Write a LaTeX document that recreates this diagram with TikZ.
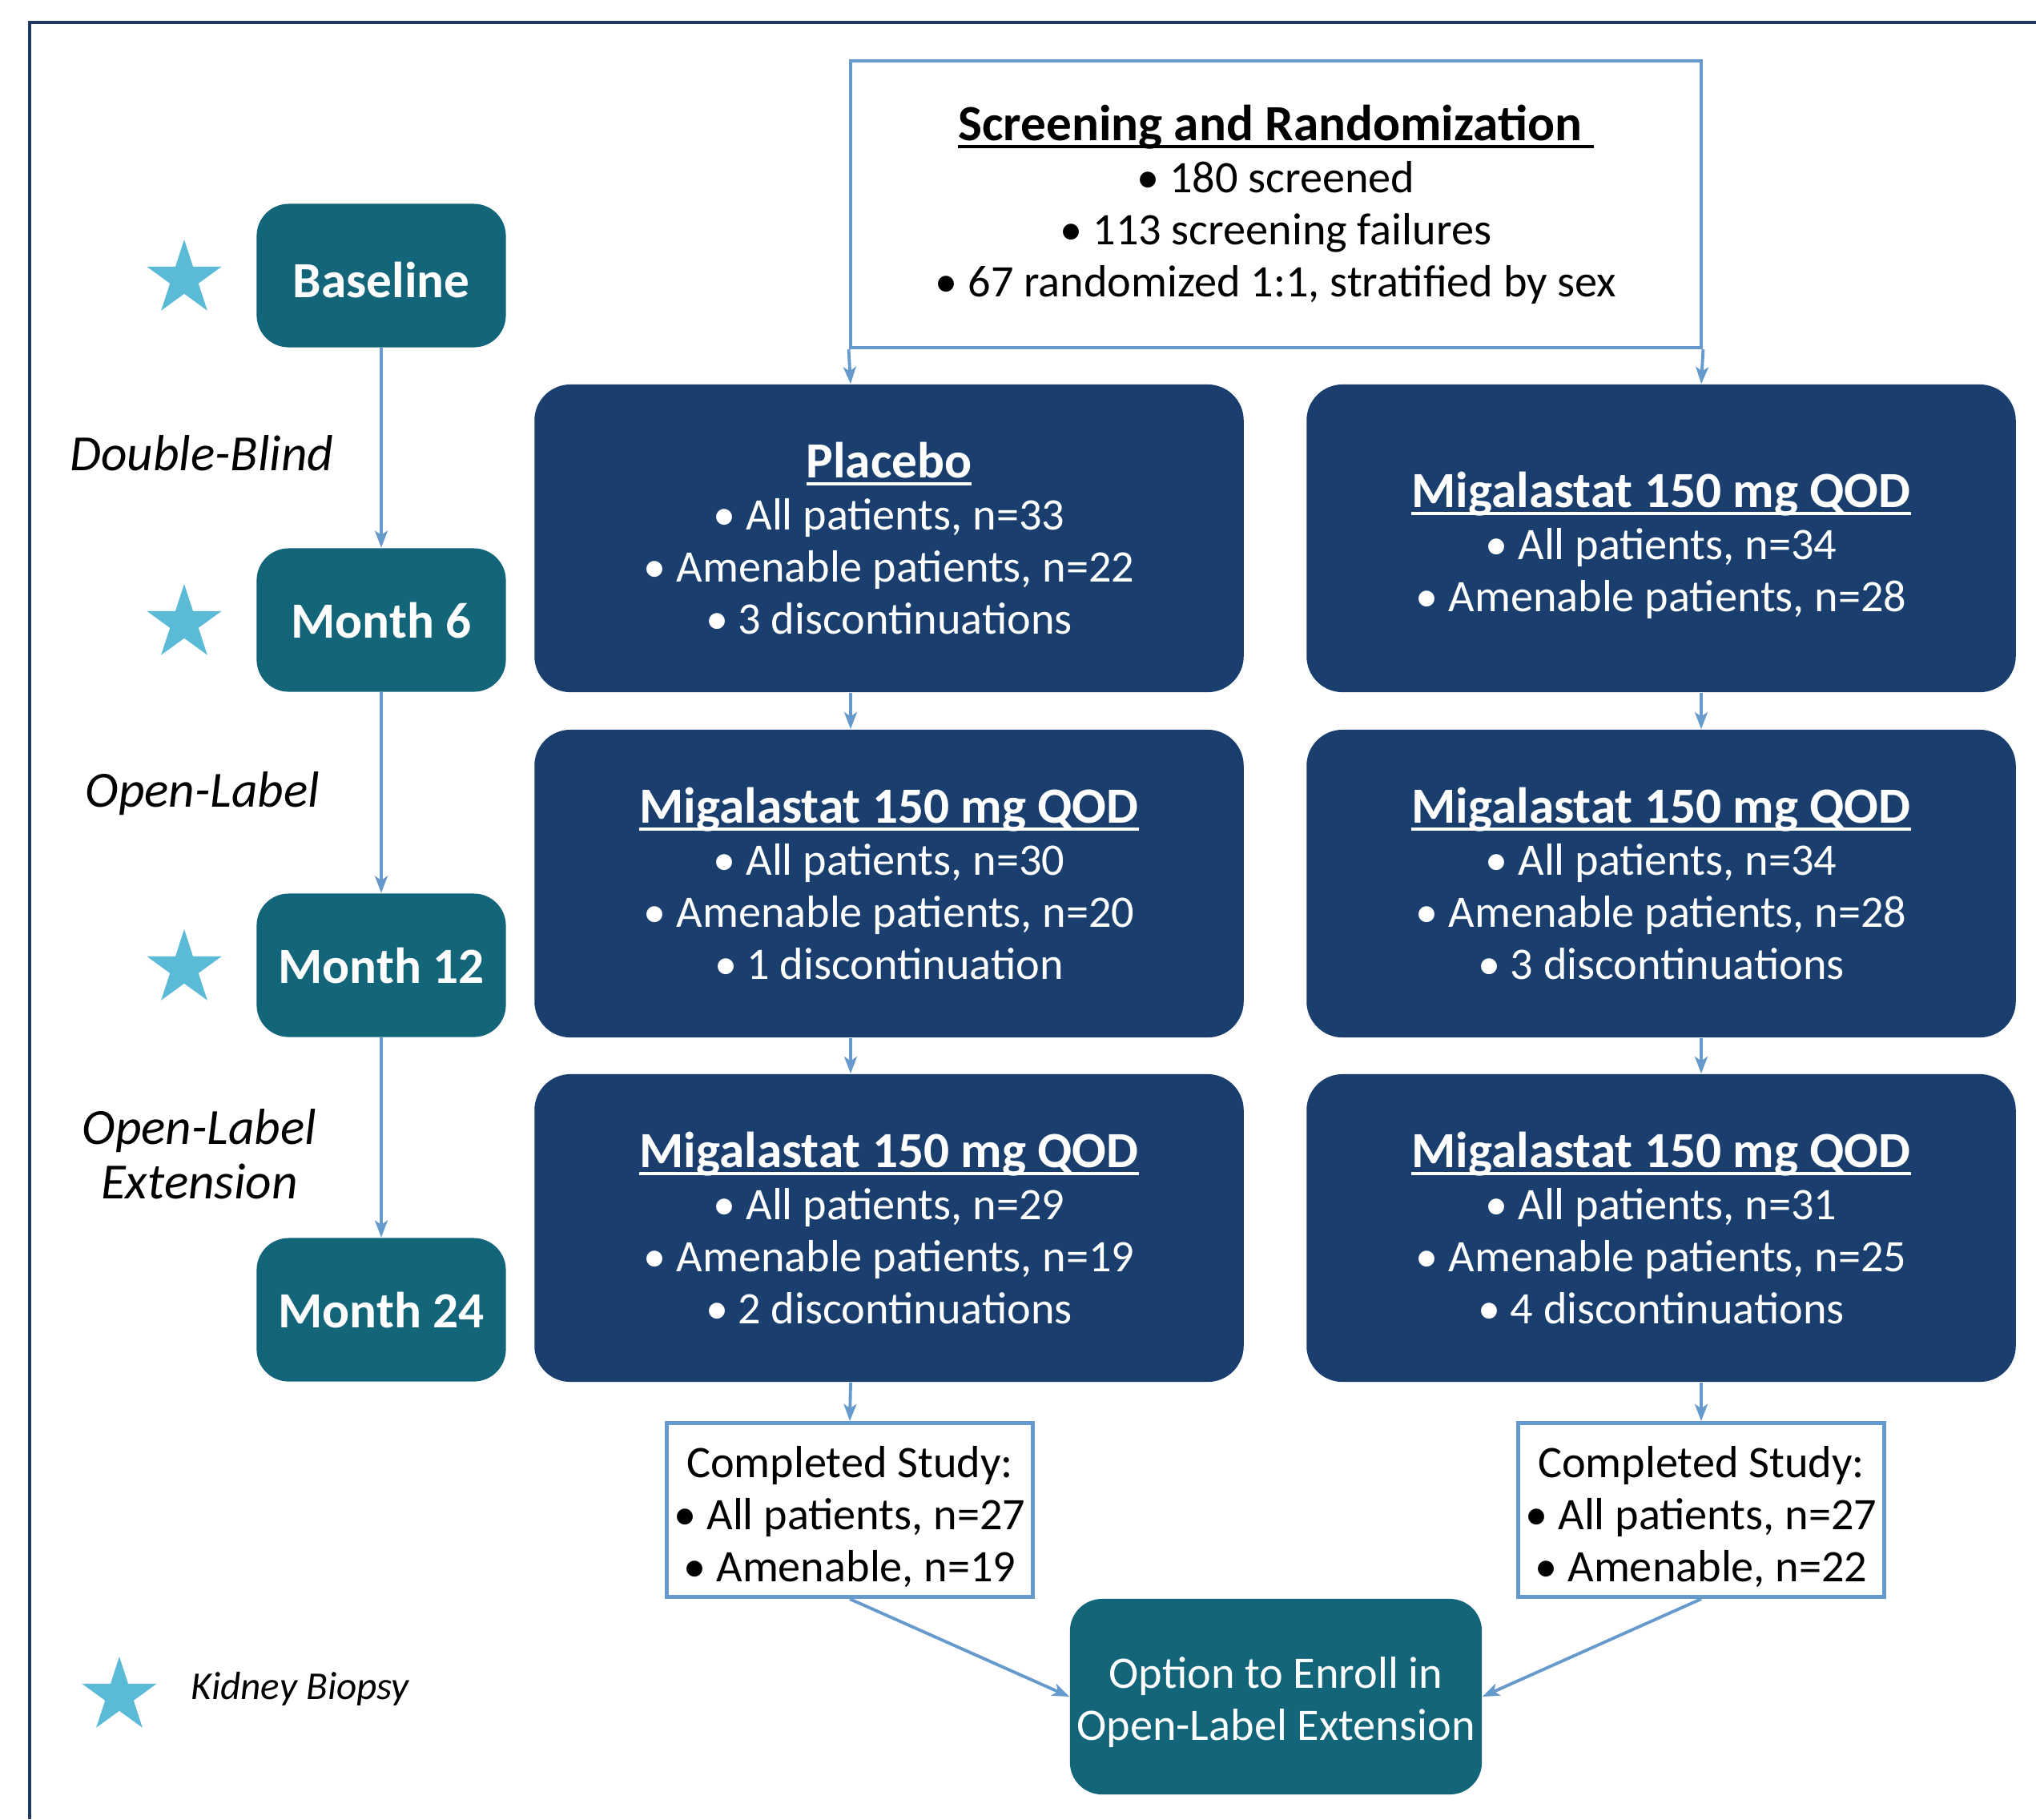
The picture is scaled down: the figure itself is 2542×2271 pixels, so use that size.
\documentclass[tikz,border=0pt]{standalone}
\usepackage{fontspec}
\setmainfont{Carlito}
\usetikzlibrary{arrows.meta,shapes.geometric}

\definecolor{navy}{RGB}{26,63,111}
\definecolor{petrol}{RGB}{19,101,121}
\definecolor{himmel}{RGB}{91,186,213}
\definecolor{linie}{RGB}{102,153,204}
\definecolor{rahmen}{RGB}{31,56,100}

\newcommand{\kopf}[1]{{\fontsize{18}{19.3}\selectfont\bfseries\setbox0\hbox{#1}\rlap{\rule[-2.7pt]{\wd0}{1.1pt}}\box0}}
\newcommand{\tiefer}[1]{\rule{0pt}{#1}}

\begin{document}
\begin{tikzpicture}[x=0.01cm,y=-0.01cm]
			\tikzset{
				arm/.style = {fill=navy, text=white, rounded corners=0.45cm, minimum width=8.85cm, minimum height=3.84cm, inner sep=0pt, align=center, font=\fontsize{16}{18.5}\selectfont},
				zeit/.style = {fill=petrol, text=white, rounded corners=0.4cm, minimum width=3.11cm, minimum height=1.79cm, inner sep=0pt, font=\fontsize{18}{19.3}\selectfont\bfseries},
				biopsie/.style = {star, star points=5, star point ratio=2.618, fill=himmel, minimum size=0.98cm, inner sep=0pt},
				phase/.style = {align=center, font=\fontsize{18}{19.3}\selectfont\itshape},
				ende/.style = {draw=linie, line width=1.4pt, fill=white, minimum width=4.56cm, minimum height=2.17cm, inner sep=0pt, align=center, font=\fontsize{16}{18.5}\selectfont},
				pfeil/.style = {draw=linie, line width=1.1pt, -{Stealth[length=6pt, width=4.5pt, inset=1.5pt]}}
			}
			\useasboundingbox (0,0) rectangle (2542,2271);
			\draw[rahmen, line width=0.9pt] (37,2271) |- (2542,28);
			
			% Zeitachse
			\node[zeit] (bl) at (476,344) {\tiefer{15.5pt}Baseline};
			\node[zeit] (m6) at (476,774) {Month 6};
			\node[zeit] (m12) at (476,1205) {Month 12};
			\node[zeit] (m24) at (476,1635) {Month 24};
			\foreach \y in {348,778,1209} \node[biopsie] at (230,\y) {};
			\node[phase] (db) at (252,566) {Double-Blind};
			\node[phase] (ol) at (253,991) {Open-Label};
			\node[phase] (ole) at (249,1441) {Open-Label\\Extension};
			
			% Randomisierung
			\node[draw=linie, line width=1.2pt, minimum width=10.62cm, minimum height=3.58cm, inner sep=0pt, align=center, font=\fontsize{16}{18.5}\selectfont] (scr) at (1593,255)
				{\kopf{Screening and Randomization\ }\\ • 180 screened\\ • 113 screening failures\\ • 67 randomized 1:1, stratified by sex};
			\coordinate (colL) at (1062,0);
			\coordinate (colR) at (2124,0);
			
			% Behandlungsarme
			\node[arm] (pla) at (1110,672) {\kopf{Placebo}\\ • All patients, n=33\\ • Amenable patients, n=22\\ • 3 discontinuations};
			\node[arm] (mig) at (2074,672) {\tiefer{17.5pt}\kopf{Migalastat 150 mg QOD}\\ • All patients, n=34\\ • Amenable patients, n=28};
			\node[arm] (ol1) at (1110,1103) {\kopf{Migalastat 150 mg QOD}\\ • All patients, n=30\\ • Amenable patients, n=20\\ • 1 discontinuation};
			\node[arm] (ol2) at (2074,1103) {\kopf{Migalastat 150 mg QOD}\\ • All patients, n=34\\ • Amenable patients, n=28\\ • 3 discontinuations};
			\node[arm] (ex1) at (1110,1533) {\kopf{Migalastat 150 mg QOD}\\ • All patients, n=29\\ • Amenable patients, n=19\\ • 2 discontinuations};
			\node[arm] (ex2) at (2074,1533) {\kopf{Migalastat 150 mg QOD}\\ • All patients, n=31\\ • Amenable patients, n=25\\ • 4 discontinuations};
			\node[ende, text=black] (cl) at (1061,1885) {\tiefer{16pt}Completed Study:\\ • All patients, n=27\\ • Amenable, n=19};
			\node[ende, text=black] (cr) at (2124,1885) {\tiefer{16pt}Completed Study:\\ • All patients, n=27\\ • Amenable, n=22};
			\node[fill=petrol, text=white, rounded corners=0.4cm, minimum width=5.14cm, minimum height=2.44cm, inner sep=0pt, align=center, font=\fontsize{16}{18.5}\selectfont] (opt) at (1593,2118) {\tiefer{15pt}Option to Enroll in\\Open-Label Extension};
			
			% Legende
			\node[biopsie] (leg) at (149,2117) {};
			\node[anchor=west, font=\fontsize{14}{17}\selectfont\itshape] (kb) at (226,2108) {Kidney Biopsy};
			
			% Pfeile
			\draw[pfeil] (bl) -- (m6);
			\draw[pfeil] (m6) -- (m12);
			\draw[pfeil] (m12) -- (m24);
			\draw[pfeil] (scr.south west) -- (pla.north -| colL);
			\draw[pfeil] (scr.south east) -- (mig.north -| colR);
			\draw[pfeil] (pla.south -| colL) -- (ol1.north -| colL);
			\draw[pfeil] (mig.south -| colR) -- (ol2.north -| colR);
			\draw[pfeil] (ol1.south -| colL) -- (ex1.north -| colL);
			\draw[pfeil] (ol2.south -| colR) -- (ex2.north -| colR);
			\draw[pfeil] (ex1.south -| colL) -- (cl.north);
			\draw[pfeil] (ex2.south -| colR) -- (cr.north);
			\draw[pfeil] (cl.south) -- (opt.west);
			\draw[pfeil] (cr.south) -- (opt.east);
		\end{tikzpicture}
\end{document}
